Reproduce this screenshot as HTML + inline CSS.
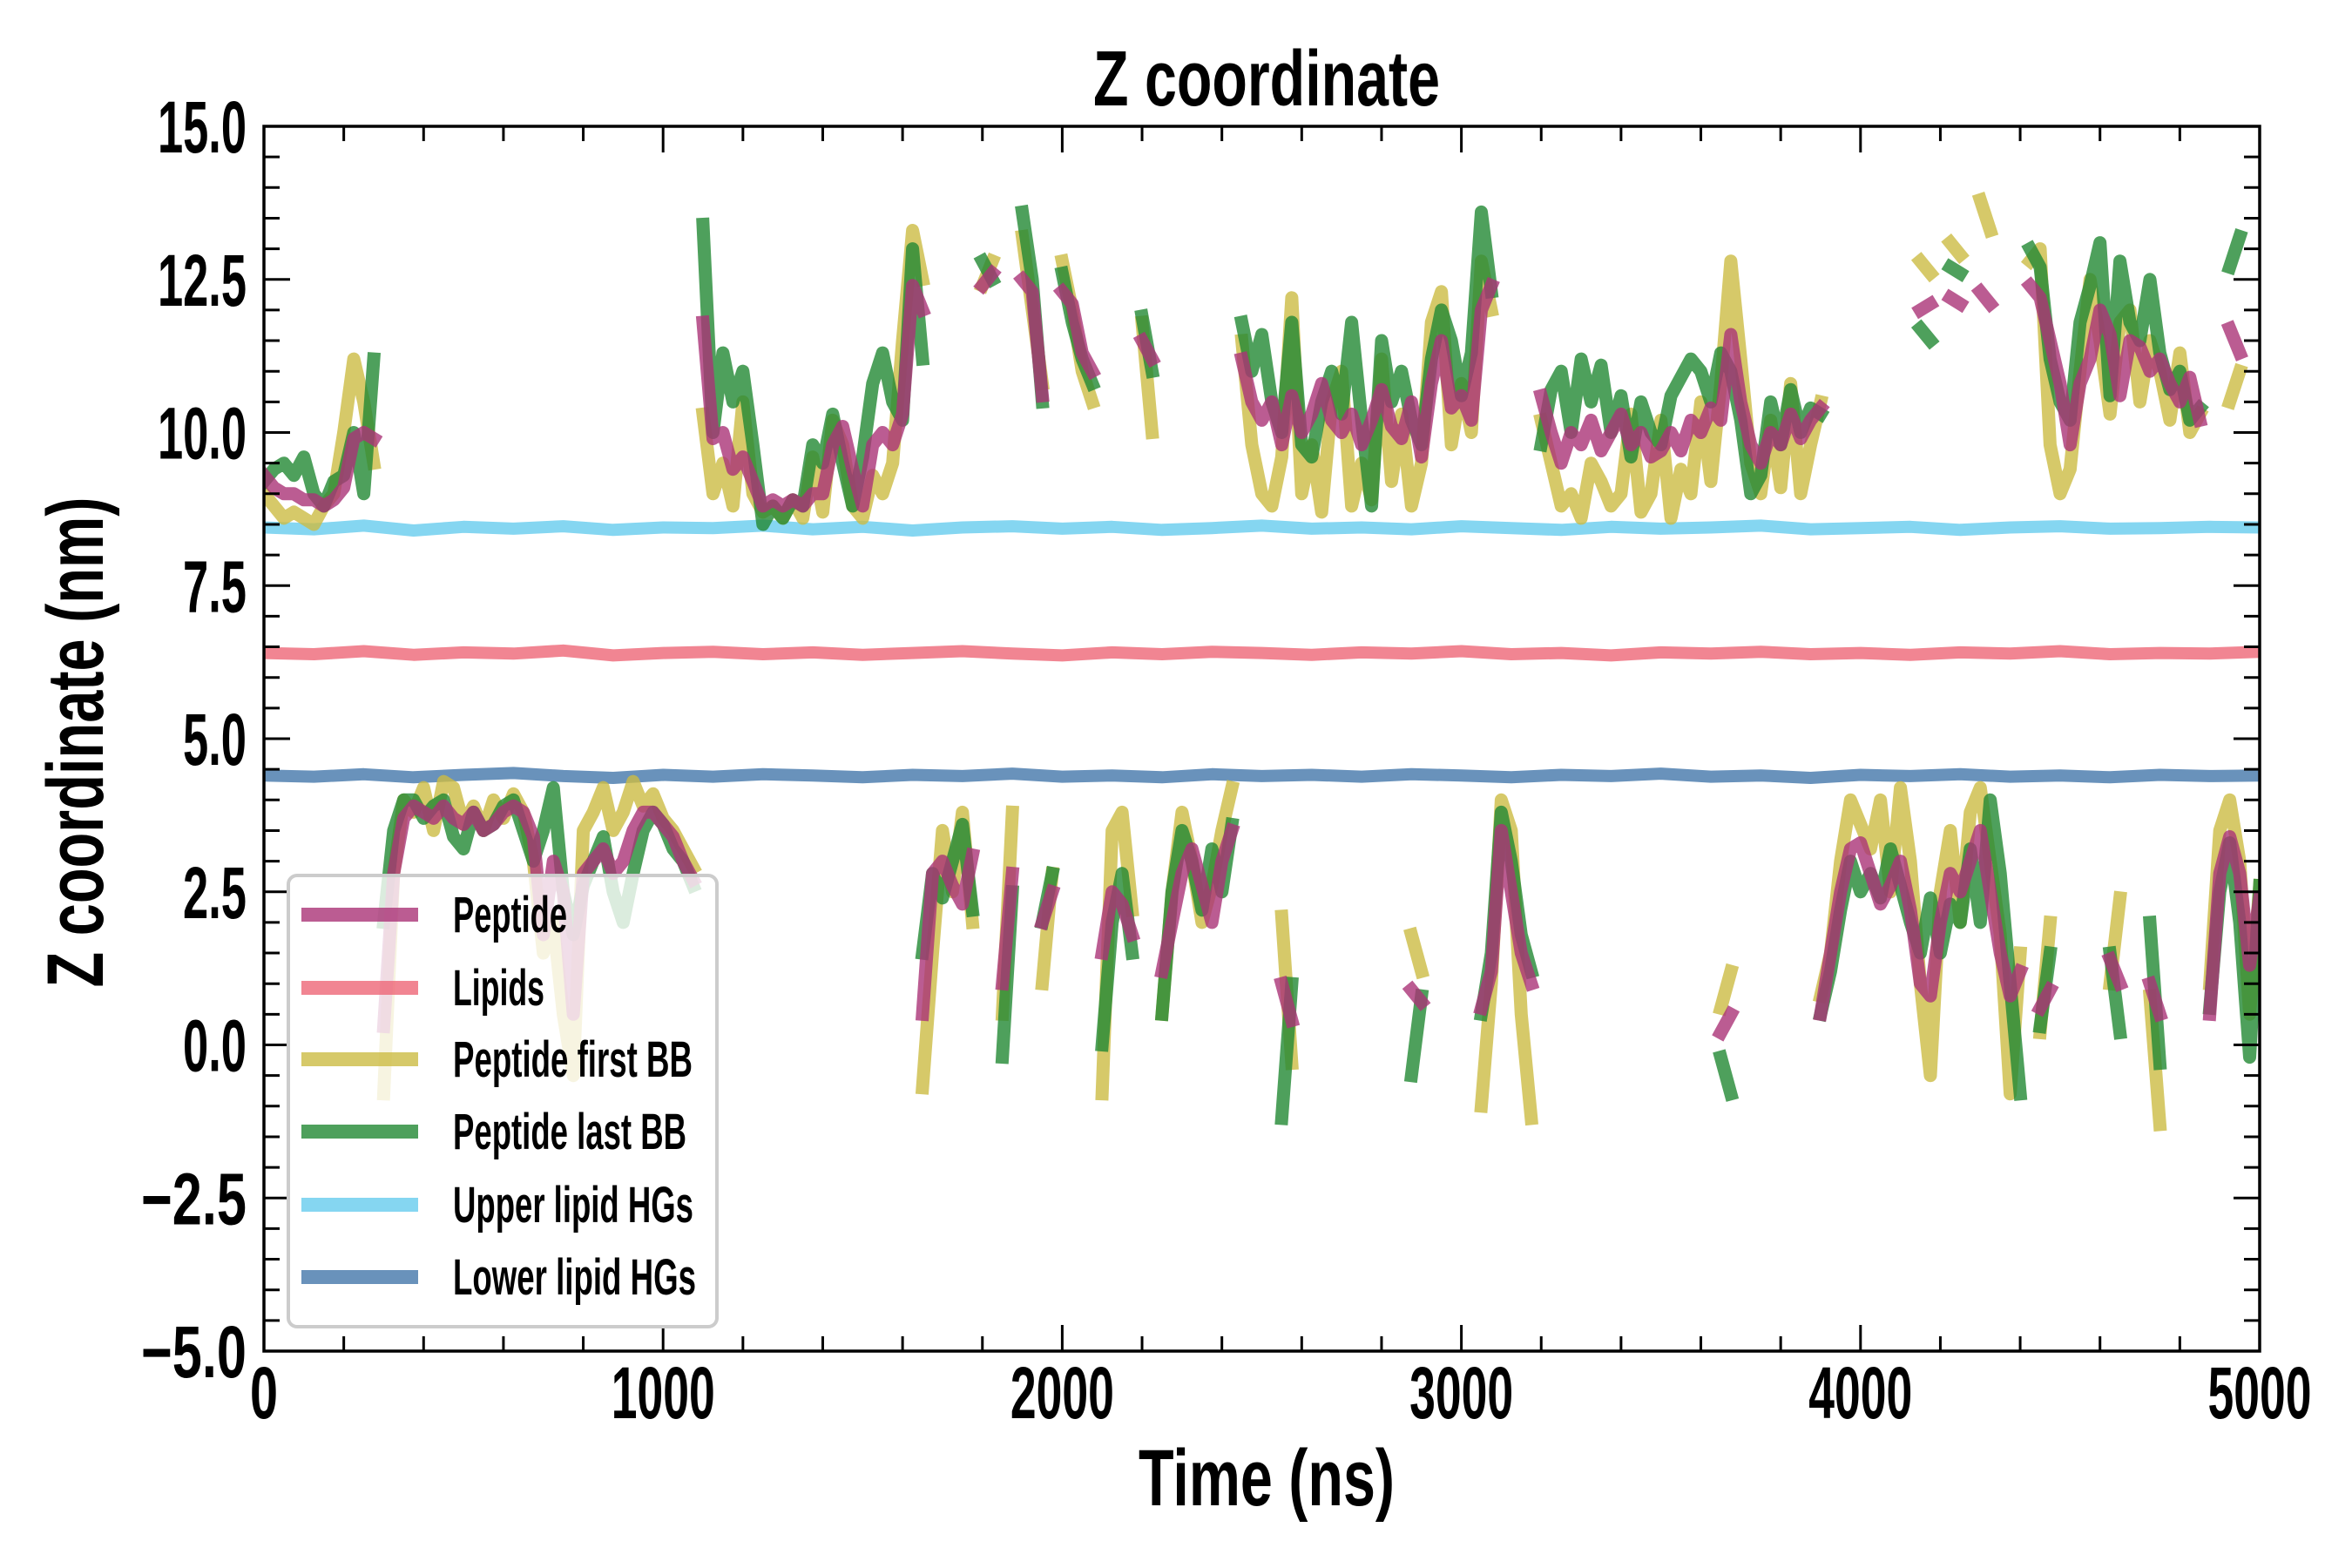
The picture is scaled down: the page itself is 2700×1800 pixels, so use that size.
<!DOCTYPE html>
<html>
<head>
<meta charset="utf-8">
<style>
html,body{margin:0;padding:0;background:#fff;}
svg{display:block;}
text{font-family:"Liberation Sans Narrow","Liberation Sans",sans-serif;font-weight:bold;fill:#000;}
</style>
</head>
<body>
<svg id="chart" width="2700" height="1800" viewBox="0 0 2700 1800" xmlns="http://www.w3.org/2000/svg">
  <defs><clipPath id="plotclip"><rect x="303" y="145" width="2291" height="1406"/></clipPath></defs>
  <rect x="0" y="0" width="2700" height="1800" fill="#fff"/>
  <text x="1454" y="121" text-anchor="middle" font-size="90" textLength="398" lengthAdjust="spacingAndGlyphs">Z coordinate</text>
  <text x="1454" y="1728" text-anchor="middle" font-size="92" textLength="294" lengthAdjust="spacingAndGlyphs">Time (ns)</text>
  <text x="0" y="0" transform="translate(118,852) rotate(-90)" text-anchor="middle" font-size="92" textLength="563" lengthAdjust="spacingAndGlyphs">Z coordinate (nm)</text>
  <g id="series" clip-path="url(#plotclip)"></g>
  <g id="axes"></g>
  <g id="legend"></g>
</svg>
<script>
const N = null;
const xTickValues = [0, 1000, 2000, 3000, 4000, 5000];
const xTickLabels = ["0", "1000", "2000", "3000", "4000", "5000"];
const yTickValues = [-5, -2.5, 0, 2.5, 5, 7.5, 10, 12.5, 15];
const yTickLabels = ["\u22125.0", "\u22122.5", "0.0", "2.5", "5.0", "7.5", "10.0", "12.5", "15.0"];
const legendLabels = ["Peptide", "Lipids", "Peptide first BB", "Peptide last BB", "Upper lipid HGs", "Lower lipid HGs"];

const pepUpper = [
9.3,9.1,9.0,9.0,8.9,8.9,8.8,8.9,9.1,9.9,
10.0,9.9,N,N,N,N,N,N,N,N,
N,N,N,N,N,N,N,N,N,N,
N,N,N,N,N,N,N,N,N,N,
N,N,N,N,11.8,9.9,10.0,9.4,9.6,9.2,
8.8,8.9,8.8,8.9,8.8,9.0,9.0,9.8,10.1,9.4,
8.8,9.8,10.0,9.8,10.3,12.4,12.0,N,N,N,
N,N,12.4,12.6,N,N,12.5,12.3,10.6,N,
12.3,12.1,11.3,11.0,N,N,N,N,11.5,11.2,
N,N,N,N,N,N,N,N,11.2,10.5,
10.2,10.5,9.8,10.6,10.0,10.3,10.8,10.2,10.0,10.3,
9.8,10.2,10.7,10.1,9.9,10.5,9.6,10.8,11.5,10.4,
10.6,10.2,12.0,12.4,N,N,N,N,10.6,10.0,
9.5,10.0,9.8,10.2,9.7,10.0,10.3,9.8,10.0,9.6,
9.7,10.0,9.7,10.2,10.0,10.4,10.2,11.6,10.5,9.8,
9.5,10.0,9.8,10.3,9.9,10.2,10.4,N,N,N,
N,N,N,N,N,N,12.0,12.1,N,12.2,
12.1,N,12.3,12.1,N,N,N,12.4,12.2,11.5,
10.8,9.8,10.8,11.2,12.0,11.6,10.6,11.5,11.4,11.0,
11.2,10.8,10.5,10.9,10.2,N,N,11.7,11.3,N,
N];
const pepLower = [
N,N,N,N,N,N,N,N,N,N,
N,N,0.3,2.8,3.7,3.9,3.8,3.7,3.9,3.7,
3.6,3.8,3.5,3.6,3.8,3.9,3.8,3.4,1.8,3.0,
2.5,0.5,2.8,3.0,3.2,2.8,3.0,3.5,3.8,3.8,
3.6,3.4,3.0,2.7,N,N,N,N,N,N,
N,N,N,N,N,N,N,N,N,N,
N,N,N,N,N,N,0.5,2.8,3.0,2.6,
2.3,3.1,N,N,1.0,2.8,N,N,2.0,2.5,
N,N,N,N,1.5,2.5,2.3,1.8,N,N,
1.2,2.0,2.8,3.2,2.6,2.0,3.0,3.5,N,N,
N,N,1.0,0.4,N,N,N,N,N,N,
N,N,N,N,N,0.9,0.7,N,N,N,
N,N,0.6,1.2,3.5,2.5,1.5,1.0,N,N,
N,N,N,N,N,N,N,N,N,N,
N,N,N,N,N,N,0.2,0.5,N,N,
N,N,N,N,N,N,0.5,1.5,2.5,3.2,
3.3,2.8,2.3,2.6,3.0,2.2,1.0,0.8,2.0,2.8,
2.5,3.0,3.5,2.5,1.5,0.8,1.2,N,0.6,0.9,
N,N,N,N,N,1.4,1.0,N,N,1.0,
0.5,N,N,N,N,0.5,2.8,3.4,2.8,1.3,
2.4];
const firstUpper = [
9.0,8.8,8.6,8.7,8.6,8.5,8.8,9.0,10.0,11.2,
10.5,9.5,N,N,N,N,N,N,N,N,
N,N,N,N,N,N,N,N,N,N,
N,N,N,N,N,N,N,N,N,N,
N,N,N,N,10.3,9.0,9.5,8.8,10.5,9.0,
8.7,8.8,8.6,8.9,8.6,9.6,8.7,10.2,9.8,8.8,
8.6,9.3,9.0,9.5,11.5,13.3,12.5,N,N,N,
N,N,12.4,12.8,N,N,13.2,12.0,10.8,N,
12.8,12.0,11.0,10.5,N,N,N,N,11.8,10.0,
N,N,N,N,N,N,N,N,11.5,9.8,
9.0,8.8,9.6,12.2,9.0,9.8,8.7,10.5,11.0,8.8,
9.5,8.9,11.2,9.2,10.3,8.8,9.5,11.8,12.3,9.8,
10.8,10.0,12.8,12.0,N,N,N,N,10.2,9.5,
8.8,9.0,8.6,9.5,9.2,8.8,9.0,10.3,8.7,9.0,
10.2,8.6,9.4,9.0,10.5,9.2,10.8,12.8,11.2,9.5,
9.0,10.2,9.1,10.8,9.0,9.8,10.5,N,N,N,
N,N,N,N,N,N,12.8,12.6,N,13.1,
12.9,N,13.8,13.3,N,N,N,12.8,13.0,9.8,
9.0,9.4,11.0,12.5,11.5,10.3,11.8,12.0,10.5,11.5,
11.0,10.2,11.3,10.0,10.3,N,N,10.5,11.0,N,
N];
const firstLower = [
N,N,N,N,N,N,N,N,N,N,
N,N,-0.8,2.8,4.0,3.8,4.2,3.5,4.3,4.2,
3.6,3.9,3.5,4.0,3.7,4.1,3.8,3.0,1.5,2.0,
0.5,-0.5,3.5,3.8,4.2,3.5,3.8,4.3,3.9,4.1,
3.7,3.5,3.2,2.9,N,N,N,N,N,N,
N,N,N,N,N,N,N,N,N,N,
N,N,N,N,N,N,-0.7,1.5,3.5,2.5,
3.8,2.0,N,N,0.5,3.8,N,N,1.0,2.8,
N,N,N,N,-0.8,3.5,3.8,2.2,N,N,
0.5,2.5,3.8,3.0,2.0,2.6,3.5,4.2,N,N,
N,N,2.1,-0.3,N,N,N,N,N,N,
N,N,N,N,N,1.8,1.2,N,N,N,
N,N,-1.0,1.0,4.0,3.5,0.5,-1.2,N,N,
N,N,N,N,N,N,N,N,N,N,
N,N,N,N,N,N,0.6,1.2,N,N,
N,N,N,N,N,N,0.8,1.5,3.0,4.0,
3.6,3.2,4.0,2.5,4.2,3.0,1.0,-0.5,2.5,3.5,
2.0,3.8,4.2,3.0,1.8,-0.8,1.5,N,0.2,2.0,
N,N,N,N,N,1.0,2.4,N,N,0.8,
-1.3,N,N,N,N,1.0,3.5,4.0,3.0,0.5,
2.6];
const lastUpper = [
9.2,9.4,9.5,9.3,9.6,9.0,8.8,9.2,9.3,10.0,
9.0,11.2,N,N,N,N,N,N,N,N,
N,N,N,N,N,N,N,N,N,N,
N,N,N,N,N,N,N,N,N,N,
N,N,N,N,13.4,10.0,11.3,10.5,11.0,9.8,
8.5,8.8,8.6,8.9,8.8,9.8,9.5,10.3,9.5,8.8,
9.6,10.8,11.3,10.5,10.2,13.0,11.2,N,N,N,
N,N,12.8,12.5,N,N,13.6,12.5,10.5,N,
12.6,11.8,11.2,10.8,N,N,N,N,11.9,11.0,
N,N,N,N,N,N,N,N,11.8,11.0,
11.6,10.5,10.0,11.8,9.8,9.6,10.5,11.0,10.3,11.8,
10.2,8.8,11.5,10.5,11.0,10.2,9.8,11.2,12.0,11.5,
10.6,11.3,13.6,12.3,N,N,N,N,9.8,10.7,
11.0,10.0,11.2,10.5,11.1,10.0,10.6,9.6,10.5,10.0,
9.8,10.6,10.9,11.2,11.0,10.5,11.3,11.0,10.2,9.0,
9.3,10.5,9.8,10.7,10.0,10.4,10.3,N,N,N,
N,N,N,N,N,N,11.7,11.5,N,12.7,
12.6,N,N,N,N,N,N,13.0,12.7,11.2,
10.5,10.2,11.8,12.4,13.1,10.6,12.8,11.8,11.5,12.5,
11.3,10.7,11.0,10.2,10.4,N,N,12.7,13.2,N,
N];
const lastLower = [
N,N,N,N,N,N,N,N,N,N,
N,N,2.0,3.5,4.0,4.0,3.7,3.9,4.0,3.4,
3.2,3.8,3.5,3.6,3.9,4.0,3.5,3.0,3.5,4.2,
2.5,1.8,2.6,3.0,3.4,2.5,2.0,2.8,3.5,3.8,
3.6,3.2,3.0,2.6,N,N,N,N,N,N,
N,N,N,N,N,N,N,N,N,N,
N,N,N,N,N,N,1.5,2.8,2.4,3.0,
3.6,2.2,N,N,-0.2,2.5,N,N,2.0,2.8,
N,N,N,N,0.0,2.0,2.8,1.5,N,N,
0.5,2.5,3.5,3.0,2.2,3.2,2.5,3.6,N,N,
N,N,-1.2,1.0,N,N,N,N,N,N,
N,N,N,N,N,-0.5,0.8,N,N,N,
N,N,0.5,1.5,3.8,3.0,1.8,1.2,N,N,
N,N,N,N,N,N,N,N,N,N,
N,N,N,N,N,N,-0.2,-0.8,N,N,
N,N,N,N,N,N,0.5,1.2,2.2,3.0,
2.5,2.8,2.4,3.2,2.6,2.0,1.5,2.4,1.5,2.3,
2.0,3.2,2.0,4.0,2.8,1.0,-0.8,N,0.3,1.5,
N,N,N,N,N,1.5,0.2,N,N,2.0,
-0.3,N,N,N,N,0.6,2.5,3.3,2.0,-0.2,
2.6];
const upperHG = [8.45,8.42,8.48,8.40,8.46,8.43,8.47,8.41,8.45,8.44,8.48,8.42,8.46,8.40,8.45,8.47,8.43,8.46,8.41,8.44,8.48,8.43,8.45,8.42,8.47,8.44,8.41,8.46,8.43,8.45,8.48,8.42,8.44,8.46,8.41,8.45,8.47,8.43,8.44,8.46,8.45];
const lipidsZ = [6.40,6.38,6.43,6.37,6.41,6.39,6.44,6.36,6.40,6.42,6.38,6.41,6.37,6.40,6.43,6.39,6.36,6.41,6.38,6.42,6.40,6.37,6.41,6.39,6.43,6.38,6.40,6.36,6.41,6.39,6.42,6.38,6.40,6.37,6.41,6.39,6.43,6.38,6.40,6.39,6.42];
const lowerHG = [4.40,4.38,4.42,4.37,4.41,4.44,4.39,4.36,4.41,4.38,4.42,4.40,4.37,4.41,4.39,4.43,4.38,4.40,4.37,4.42,4.39,4.41,4.38,4.42,4.40,4.37,4.41,4.39,4.43,4.38,4.40,4.36,4.41,4.39,4.42,4.38,4.40,4.37,4.41,4.39,4.40];

const PL = 303, PR = 2594, PT = 145, PB = 1551;
const XMIN = 0, XMAX = 5000, YMIN = -5, YMAX = 15;
function xScale(t){ return PL + (t - XMIN) / (XMAX - XMIN) * (PR - PL); }
function yScale(z){ return PT + (YMAX - z) / (YMAX - YMIN) * (PB - PT); }
const SVGNS = "http://www.w3.org/2000/svg";
const seriesG = document.getElementById('series');
const axesG = document.getElementById('axes');
const legendG = document.getElementById('legend');

function mk(tag, attrs, parent){
  const e = document.createElementNS(SVGNS, tag);
  for (const k in attrs) e.setAttribute(k, attrs[k]);
  parent.appendChild(e);
  return e;
}
function pathFrom(values, step){
  let d = ""; let pen = false;
  for (let i = 0; i < values.length; i++){
    const v = values[i];
    if (v === null){ pen = false; continue; }
    const x = xScale(i * step).toFixed(1), y = yScale(v).toFixed(1);
    d += (pen ? "L" : "M") + x + " " + y + " ";
    pen = true;
  }
  return d;
}
function drawSeries(values, step, color, width, opacity, name){
  const p = mk('path', {d: pathFrom(values, step), fill: 'none', stroke: color, 'stroke-width': width, 'stroke-opacity': opacity, 'stroke-linejoin': 'round', 'stroke-linecap': 'square'}, seriesG);
  
  
}
const C_PEP = '#aa3377', C_LIP = '#ee6677', C_FIRST = '#ccbb44', C_LAST = '#228833', C_UP = '#66ccee', C_LOW = '#4477aa';
drawSeries(upperHG, 125, C_UP, 14, 0.8, 'upper-lipid-hgs-line');
drawSeries(lipidsZ, 125, C_LIP, 14, 0.8, 'lipids-line');
drawSeries(lowerHG, 125, C_LOW, 14, 0.8, 'lower-lipid-hgs-line');
drawSeries(firstUpper, 25, C_FIRST, 15, 0.8, 'peptide-first-bb-upper-line');
drawSeries(firstLower, 25, C_FIRST, 15, 0.8, 'peptide-first-bb-lower-line');
drawSeries(lastUpper, 25, C_LAST, 15, 0.8, 'peptide-last-bb-upper-line');
drawSeries(lastLower, 25, C_LAST, 15, 0.8, 'peptide-last-bb-lower-line');
drawSeries(pepUpper, 25, C_PEP, 15, 0.8, 'peptide-upper-line');
drawSeries(pepLower, 25, C_PEP, 15, 0.8, 'peptide-lower-line');

const frame = mk('rect', {x: PL, y: PT, width: PR - PL, height: PB - PT, fill: 'none', stroke: '#000', 'stroke-width': 3.5}, axesG);


for (let t = XMIN; t <= XMAX; t += 200){
  const major = (t % 1000 === 0);
  const L = major ? 30 : 17;
  const x = xScale(t);
  const a = mk('line', {x1: x, y1: PB, x2: x, y2: PB - L, stroke: '#000', 'stroke-width': 3}, axesG);
  
  
  const b = mk('line', {x1: x, y1: PT, x2: x, y2: PT + L, stroke: '#000', 'stroke-width': 3}, axesG);
  
  
}
for (let k = 0; k <= 40; k++){
  const z = YMIN + k * 0.5;
  const major = (k % 5 === 0);
  const L = major ? 30 : 18;
  const y = yScale(z);
  const a = mk('line', {x1: PL, y1: y, x2: PL + L, y2: y, stroke: '#000', 'stroke-width': 3}, axesG);
  
  
  const b = mk('line', {x1: PR, y1: y, x2: PR - L, y2: y, stroke: '#000', 'stroke-width': 3}, axesG);
  
  
}
function labelWidth(s){
  let w = 0;
  for (const ch of s){ w += (ch === '.') ? 15 : (ch === '\u2212' ? 48 : 29); }
  return w;
}
for (let i = 0; i < xTickValues.length; i++){
  const s = xTickLabels[i];
  const t = mk('text', {x: xScale(xTickValues[i]), y: 1628, 'text-anchor': 'middle', 'font-size': 84, textLength: labelWidth(s) + 3, lengthAdjust: 'spacingAndGlyphs'}, axesG);
  t.textContent = s;
  
  
}
for (let i = 0; i < yTickValues.length; i++){
  const s = yTickLabels[i];
  const t = mk('text', {x: 283, y: yScale(yTickValues[i]) + 30, 'text-anchor': 'end', 'font-size': 84, textLength: labelWidth(s), lengthAdjust: 'spacingAndGlyphs'}, axesG);
  t.textContent = s;
  
  
}
const lbox = mk('rect', {x: 331, y: 1005, width: 492, height: 518, rx: 10, ry: 10, fill: '#fff', 'fill-opacity': 0.8, stroke: '#cccccc', 'stroke-width': 4}, legendG);


const legendColors = [C_PEP, C_LIP, C_FIRST, C_LAST, C_UP, C_LOW];
const legendWidths = [131, 105, 275, 268, 276, 279];
const legendRowY = [1050, 1134, 1216, 1299, 1383, 1466];
for (let i = 0; i < legendLabels.length; i++){
  const ln = mk('line', {x1: 346, y1: legendRowY[i], x2: 480, y2: legendRowY[i], stroke: legendColors[i], 'stroke-width': 16, 'stroke-opacity': 0.8}, legendG);
  
  
  const tx = mk('text', {x: 520, y: legendRowY[i] + 20, 'font-size': 58, textLength: legendWidths[i], lengthAdjust: 'spacingAndGlyphs'}, legendG);
  tx.textContent = legendLabels[i];
  
  
}
</script>
</body>
</html>
